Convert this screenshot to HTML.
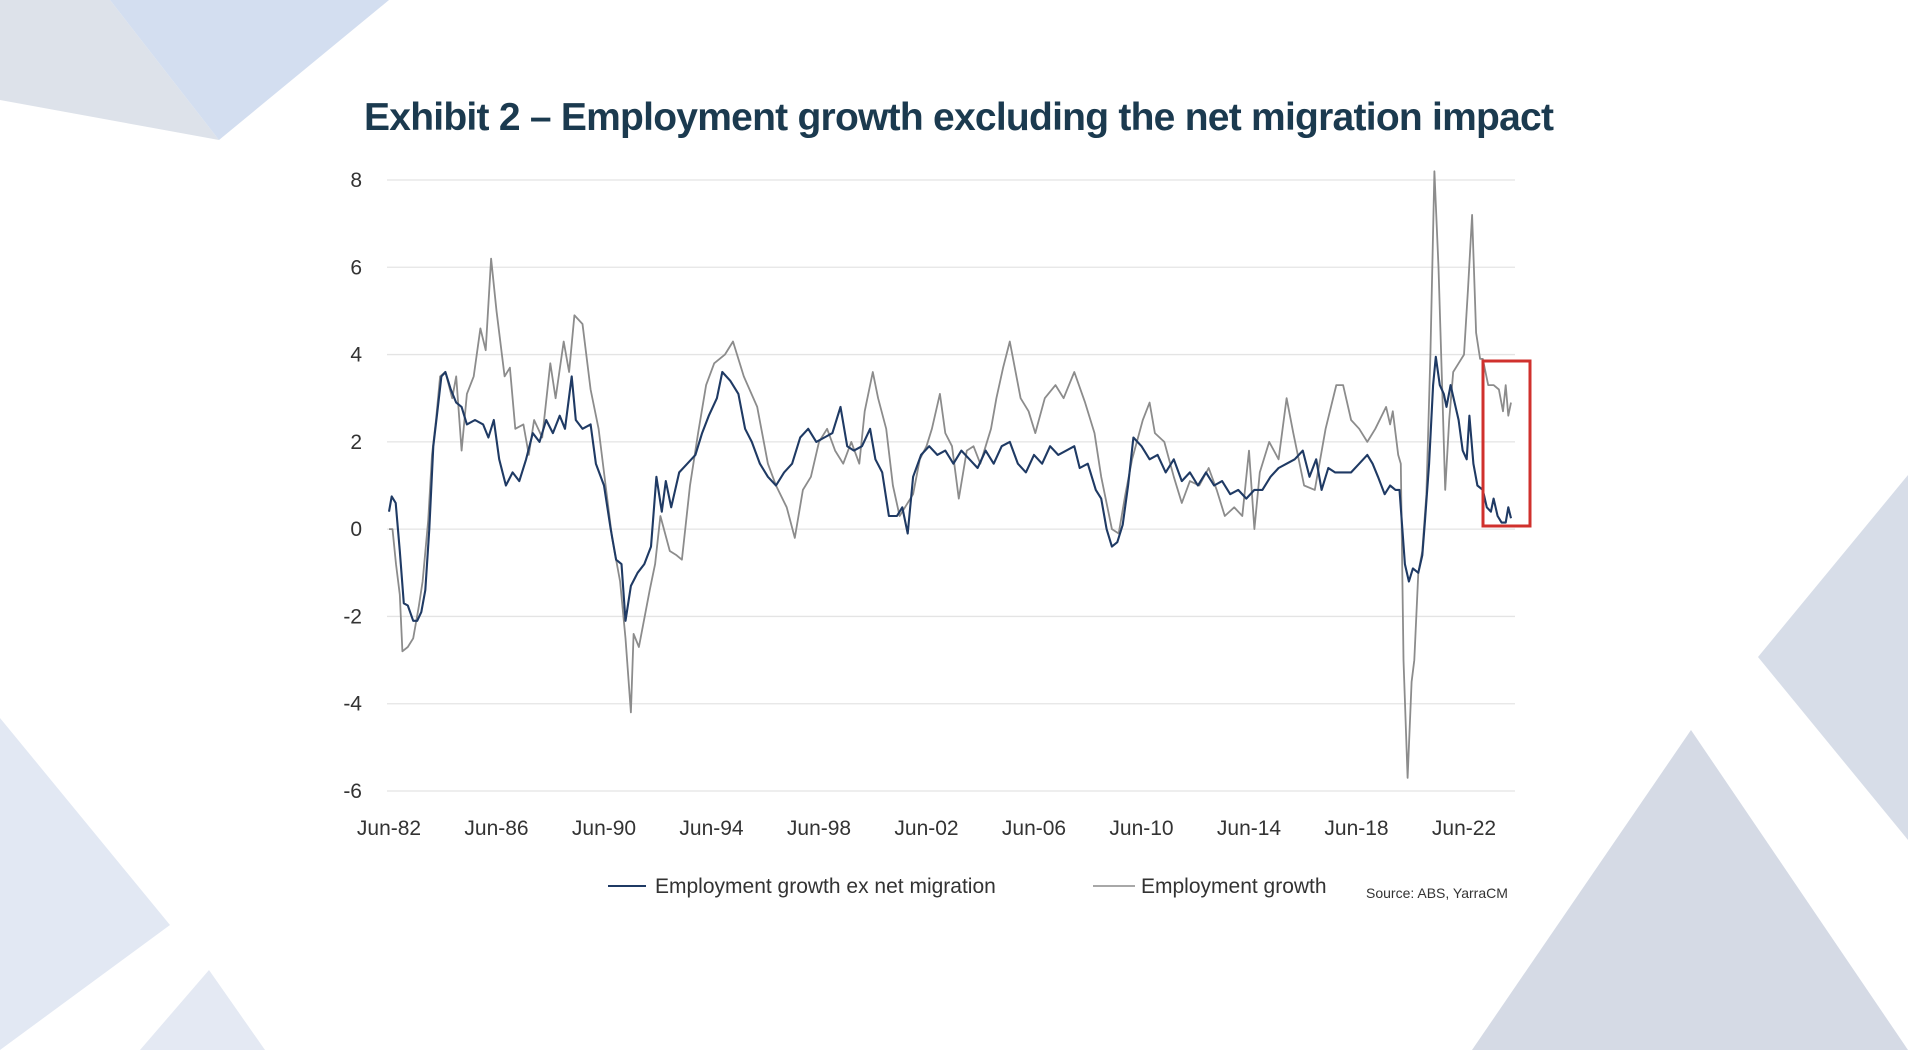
<!DOCTYPE html>
<html><head><meta charset="utf-8"><style>
html,body{margin:0;padding:0;background:#fff;}
svg{display:block;font-family:"Liberation Sans",sans-serif;}
</style></head><body>
<svg id="chart" width="1908" height="1050" viewBox="0 0 1908 1050" xmlns="http://www.w3.org/2000/svg">
<g>
<polygon points="0,0 110,0 219,140 0,100" fill="#dde2ea"/>
<polygon points="110,0 389,0 219,140" fill="#d3def0"/>
<polygon points="0,718 170,925 0,1050" fill="#e2e8f3"/>
<polygon points="140,1050 209,970 265,1050" fill="#e4e9f3"/>
<polygon points="1908,475 1758,657 1908,840" fill="#d7dde8"/>
<polygon points="1472,1050 1691,730 1908,1050" fill="#d5dae5"/>
</g>
<text x="364" y="130" textLength="1190" font-size="39" font-weight="bold" fill="#1b3a4f">Exhibit 2 – Employment growth excluding the net migration impact</text>
<g id="grid"></g>
<g id="yticks"></g>
<g id="xticks"></g>
<g id="series"></g>
<rect x="1483" y="361" width="47" height="165" fill="none" stroke="#d0312d" stroke-width="3"/>
<g>
<line x1="608" y1="886" x2="646" y2="886" stroke="#1f3a64" stroke-width="2"/>
<text x="655" y="893" font-size="21" fill="#333">Employment growth ex net migration</text>
<line x1="1093" y1="886" x2="1135" y2="886" stroke="#8c8c8c" stroke-width="1.6"/>
<text x="1141" y="893" font-size="21" fill="#333">Employment growth</text>
</g>
<text x="1366" y="898" font-size="14" fill="#333">Source: ABS, YarraCM</text>
</svg>
<script>
const yTicks=[8,6,4,2,0,-2,-4,-6];
const xTickYears=[1982.5,1986.5,1990.5,1994.5,1998.5,2002.5,2006.5,2010.5,2014.5,2018.5,2022.5];
const xTickLabels=["Jun-82","Jun-86","Jun-90","Jun-94","Jun-98","Jun-02","Jun-06","Jun-10","Jun-14","Jun-18","Jun-22"];
const grayDates=[1982.5,1982.63,1982.76,1982.9,1983.0,1983.2,1983.4,1983.6,1983.75,1983.96,1984.1,1984.25,1984.4,1984.6,1984.85,1985.0,1985.2,1985.4,1985.65,1985.9,1986.1,1986.3,1986.5,1986.8,1987.0,1987.2,1987.5,1987.7,1987.9,1988.2,1988.5,1988.7,1989.0,1989.2,1989.4,1989.7,1990.0,1990.3,1990.6,1990.8,1991.1,1991.3,1991.5,1991.6,1991.8,1992.2,1992.4,1992.6,1992.95,1993.2,1993.4,1993.7,1994.0,1994.3,1994.6,1995.0,1995.3,1995.7,1996.2,1996.6,1996.9,1997.3,1997.6,1997.9,1998.2,1998.5,1998.8,1999.1,1999.4,1999.7,2000.0,2000.2,2000.5,2000.7,2001.0,2001.25,2001.5,2001.7,2002.0,2002.25,2002.5,2002.7,2003.0,2003.2,2003.45,2003.7,2004.0,2004.25,2004.5,2004.9,2005.1,2005.35,2005.6,2006.0,2006.3,2006.55,2006.9,2007.3,2007.6,2008.0,2008.4,2008.75,2009.0,2009.4,2009.65,2009.9,2010.15,2010.55,2010.8,2011.0,2011.35,2011.7,2012.0,2012.3,2012.65,2013.0,2013.3,2013.6,2013.95,2014.25,2014.5,2014.7,2014.9,2015.25,2015.6,2015.9,2016.15,2016.55,2016.95,2017.35,2017.75,2018.0,2018.3,2018.6,2018.9,2019.2,2019.6,2019.75,2019.85,2019.95,2020.05,2020.15,2020.25,2020.4,2020.55,2020.65,2020.8,2020.95,2021.1,2021.25,2021.4,2021.55,2021.7,2021.8,2021.95,2022.1,2022.3,2022.5,2022.65,2022.8,2022.95,2023.1,2023.2,2023.4,2023.6,2023.8,2023.95,2024.05,2024.15,2024.25];
const grayValues=[0.0,0.0,-0.8,-1.5,-2.8,-2.7,-2.5,-1.8,-1.2,0.2,1.7,2.5,3.5,3.6,3.0,3.5,1.8,3.1,3.5,4.6,4.1,6.2,5.0,3.5,3.7,2.3,2.4,1.7,2.5,2.1,3.8,3.0,4.3,3.6,4.9,4.7,3.2,2.3,0.8,-0.2,-1.2,-2.5,-4.2,-2.4,-2.7,-1.4,-0.8,0.3,-0.5,-0.6,-0.7,1.0,2.2,3.3,3.8,4.0,4.3,3.5,2.8,1.5,1.0,0.5,-0.2,0.9,1.2,2.0,2.3,1.8,1.5,2.0,1.5,2.7,3.6,3.0,2.3,1.0,0.3,0.5,0.8,1.6,1.9,2.3,3.1,2.2,1.9,0.7,1.8,1.9,1.5,2.3,3.0,3.7,4.3,3.0,2.7,2.2,3.0,3.3,3.0,3.6,2.9,2.2,1.2,0.0,-0.1,0.8,1.6,2.5,2.9,2.2,2.0,1.2,0.6,1.1,1.0,1.4,0.9,0.3,0.5,0.3,1.8,0.0,1.3,2.0,1.6,3.0,2.2,1.0,0.9,2.3,3.3,3.3,2.5,2.3,2.0,2.3,2.8,2.4,2.7,2.2,1.7,1.5,-3.0,-5.7,-3.5,-3.0,-1.0,-0.5,0.8,4.0,8.2,6.0,3.0,0.9,2.5,3.6,3.8,4.0,5.5,7.2,4.5,3.9,3.9,3.3,3.3,3.2,2.7,3.3,2.6,2.9];
const blueDates=[1982.5,1982.6,1982.75,1982.9,1983.05,1983.2,1983.4,1983.55,1983.7,1983.85,1984.0,1984.15,1984.3,1984.45,1984.6,1984.8,1985.0,1985.2,1985.4,1985.7,1986.0,1986.2,1986.4,1986.6,1986.85,1987.1,1987.35,1987.6,1987.85,1988.1,1988.35,1988.6,1988.85,1989.05,1989.3,1989.45,1989.7,1990.0,1990.2,1990.5,1990.75,1990.95,1991.15,1991.3,1991.5,1991.75,1992.0,1992.25,1992.45,1992.65,1992.8,1993.0,1993.3,1993.6,1993.9,1994.15,1994.4,1994.7,1994.9,1995.2,1995.5,1995.75,1996.0,1996.3,1996.6,1996.9,1997.2,1997.5,1997.8,1998.1,1998.4,1998.7,1999.0,1999.3,1999.55,1999.8,2000.1,2000.4,2000.6,2000.85,2001.1,2001.4,2001.6,2001.8,2002.0,2002.3,2002.6,2002.9,2003.2,2003.5,2003.8,2004.1,2004.4,2004.7,2005.0,2005.3,2005.6,2005.9,2006.2,2006.5,2006.8,2007.1,2007.4,2007.7,2008.0,2008.2,2008.5,2008.8,2009.0,2009.2,2009.4,2009.6,2009.8,2010.0,2010.2,2010.5,2010.8,2011.1,2011.4,2011.7,2012.0,2012.3,2012.6,2012.9,2013.2,2013.5,2013.8,2014.1,2014.4,2014.7,2015.0,2015.3,2015.6,2015.9,2016.2,2016.5,2016.75,2017.0,2017.2,2017.45,2017.7,2018.0,2018.3,2018.6,2018.9,2019.1,2019.3,2019.55,2019.75,2019.95,2020.1,2020.3,2020.45,2020.6,2020.8,2020.95,2021.05,2021.2,2021.35,2021.45,2021.6,2021.75,2021.85,2022.0,2022.15,2022.3,2022.45,2022.6,2022.7,2022.85,2023.0,2023.2,2023.35,2023.5,2023.6,2023.75,2023.9,2024.05,2024.15,2024.25];
const blueValues=[0.4,0.75,0.6,-0.5,-1.7,-1.75,-2.1,-2.1,-1.9,-1.4,0.0,1.9,2.7,3.5,3.6,3.2,2.9,2.8,2.4,2.5,2.4,2.1,2.5,1.6,1.0,1.3,1.1,1.6,2.2,2.0,2.5,2.2,2.6,2.3,3.5,2.5,2.3,2.4,1.5,1.0,0.0,-0.7,-0.8,-2.1,-1.3,-1.0,-0.8,-0.4,1.2,0.4,1.1,0.5,1.3,1.5,1.7,2.2,2.6,3.0,3.6,3.4,3.1,2.3,2.0,1.5,1.2,1.0,1.3,1.5,2.1,2.3,2.0,2.1,2.2,2.8,1.9,1.8,1.9,2.3,1.6,1.3,0.3,0.3,0.5,-0.1,1.2,1.7,1.9,1.7,1.8,1.5,1.8,1.6,1.4,1.8,1.5,1.9,2.0,1.5,1.3,1.7,1.5,1.9,1.7,1.8,1.9,1.4,1.5,0.9,0.7,0.0,-0.4,-0.3,0.1,1.0,2.1,1.9,1.6,1.7,1.3,1.6,1.1,1.3,1.0,1.3,1.0,1.1,0.8,0.9,0.7,0.9,0.9,1.2,1.4,1.5,1.6,1.8,1.2,1.6,0.9,1.4,1.3,1.3,1.3,1.5,1.7,1.5,1.2,0.8,1.0,0.9,0.9,-0.8,-1.2,-0.9,-1.0,-0.6,0.2,1.5,3.3,3.95,3.3,3.1,2.8,3.3,2.9,2.5,1.8,1.6,2.6,1.5,1.0,0.9,0.5,0.4,0.7,0.3,0.15,0.15,0.5,0.25];

const NS="http://www.w3.org/2000/svg";
const X0=389,X1=1464,T0=1982.5,T1=2022.5;
const Y8=180,Ym6=791;
function xScale(t){return X0+(t-T0)*(X1-X0)/(T1-T0);}
function yScale(v){return Y8+(8-v)*(Ym6-Y8)/14;}
const grid=document.getElementById('grid'),yt=document.getElementById('yticks'),xt=document.getElementById('xticks'),ser=document.getElementById('series');
yTicks.forEach(v=>{
  const l=document.createElementNS(NS,'line');
  l.setAttribute('x1',387);l.setAttribute('x2',1515);
  l.setAttribute('y1',yScale(v));l.setAttribute('y2',yScale(v));
  l.setAttribute('stroke','#e4e4e4');l.setAttribute('stroke-width','1.3');
  
  
  grid.appendChild(l);
  const t=document.createElementNS(NS,'text');
  t.setAttribute('x',362);t.setAttribute('y',yScale(v)+7);
  t.setAttribute('text-anchor','end');t.setAttribute('font-size','21');t.setAttribute('fill','#333');
  t.textContent=v;
  
  
  yt.appendChild(t);
});
xTickYears.forEach((yr,i)=>{
  const t=document.createElementNS(NS,'text');
  t.setAttribute('x',xScale(yr));t.setAttribute('y',835);
  t.setAttribute('text-anchor','middle');t.setAttribute('font-size','21');t.setAttribute('fill','#333');
  t.textContent=xTickLabels[i];
  
  
  xt.appendChild(t);
});
function drawLine(dates,vals,color,w,name){
  const p=document.createElementNS(NS,'polyline');
  p.setAttribute('points',dates.map((d,i)=>xScale(d).toFixed(1)+','+yScale(vals[i]).toFixed(1)).join(' '));
  p.setAttribute('fill','none');p.setAttribute('stroke',color);p.setAttribute('stroke-width',w);
  p.setAttribute('stroke-linejoin','round');
  
  
  ser.appendChild(p);
}
drawLine(grayDates,grayValues,'#8c8c8c',1.8,'employment-growth-line');
drawLine(blueDates,blueValues,'#1f3a64',2.1,'employment-growth-ex-migration-line');
</script>
</body></html>
